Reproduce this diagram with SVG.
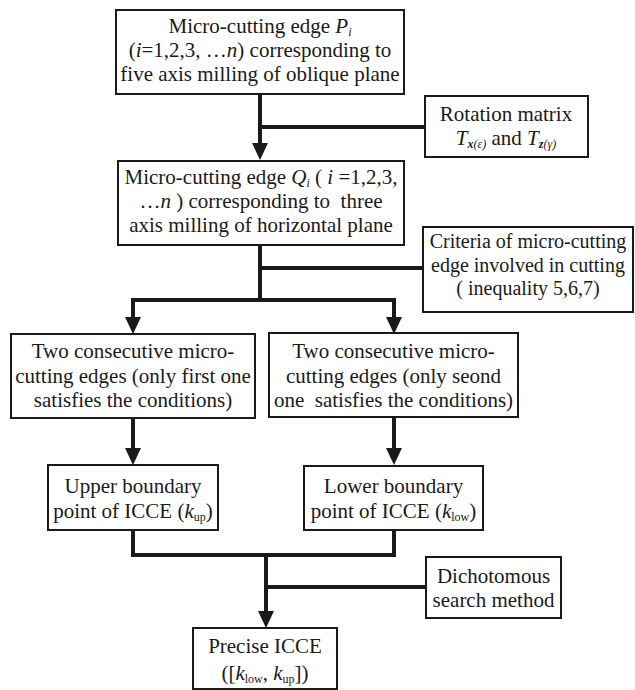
<svg xmlns="http://www.w3.org/2000/svg" width="635" height="690" viewBox="0 0 635 690">
<defs>
<style>
.box{fill:#fff;stroke:#1a1a1a;stroke-width:2}
.t{font-family:"Liberation Serif","Times New Roman",serif;font-size:21px;fill:#1a1a1a;text-anchor:middle}
.t2{font-size:20px}
.i{font-style:italic}
.s{font-size:12px}
.c{fill:none;stroke:#1a1a1a;stroke-width:4}
.ah{fill:#1a1a1a}
</style>
</defs>
<rect width="635" height="690" fill="#fff"/>
<g id="connectors">
<path class="c" d="M260 94V145M260 127H425"/>
<polygon class="ah" points="252,143 268,143 260,160"/>
<path class="c" d="M260 245V300H133V318M260 300H394V318M260 268H423"/>
<polygon class="ah" points="125,317 141,317 133,334"/>
<polygon class="ah" points="386,317 402,317 394,334"/>
<path class="c" d="M133 418V449M394 417V449"/>
<polygon class="ah" points="125,448 141,448 133,465"/>
<polygon class="ah" points="386,448 402,448 394,465"/>
<path class="c" d="M133 530V555H394V530M266 555V612M266 587H426"/>
<polygon class="ah" points="258,611 274,611 266,628"/>
</g>
<g id="n1">
<rect class="box" x="116" y="10" width="288" height="84"/>
<text class="t" x="260" y="33">Micro-cutting edge <tspan class="i">P</tspan><tspan class="i s" baseline-shift="-3">i</tspan></text>
<text class="t" x="260" y="57">(<tspan class="i">i</tspan>=1,2,3, …<tspan class="i">n</tspan>) corresponding to</text>
<text class="t" x="260" y="81">five axis milling of oblique plane</text>
</g>
<g id="n2">
<rect class="box" x="425" y="96" width="163" height="61"/>
<text class="t" x="506" y="121">Rotation matrix</text>
<text class="t" x="506" y="145"><tspan class="i">T</tspan><tspan class="i s" baseline-shift="-3"><tspan font-weight="bold">x</tspan>(ε)</tspan> and <tspan class="i">T</tspan><tspan class="i s" baseline-shift="-3"><tspan font-weight="bold">z</tspan>(γ)</tspan></text>
</g>
<g id="n3">
<rect class="box" x="118" y="161" width="286" height="84"/>
<text class="t" x="261" y="184">Micro-cutting edge <tspan class="i">Q</tspan><tspan class="i s" baseline-shift="-3">i</tspan> ( <tspan class="i">i</tspan> =1,2,3,</text>
<text class="t" x="261" y="208">…<tspan class="i">n</tspan> ) corresponding to&#160; three</text>
<text class="t" x="261" y="232">axis milling of horizontal plane</text>
</g>
<g id="n4">
<rect class="box" x="423" y="227" width="210" height="85"/>
<text class="t t2" x="528" y="248">Criteria of micro-cutting</text>
<text class="t t2" x="528" y="272">edge involved in cutting</text>
<text class="t t2" x="528" y="295">( inequality 5,6,7)</text>
</g>
<g id="n5">
<rect class="box" x="11" y="334" width="244" height="84"/>
<text class="t" x="133" y="358">Two consecutive micro-</text>
<text class="t" x="133" y="383">cutting edges (only first one</text>
<text class="t" x="133" y="407">satisfies the conditions)</text>
</g>
<g id="n6">
<rect class="box" x="269" y="333" width="249" height="84"/>
<text class="t" x="393.5" y="358">Two consecutive micro-</text>
<text class="t" x="393.5" y="383">cutting edges (only seond</text>
<text class="t" x="393.5" y="407">one&#160; satisfies the conditions)</text>
</g>
<g id="n7">
<rect class="box" x="48" y="465" width="170" height="65"/>
<text class="t" x="133" y="493">Upper boundary</text>
<text class="t" x="133" y="518">point of ICCE (<tspan class="i">k</tspan><tspan class="s" baseline-shift="-3">up</tspan>)</text>
</g>
<g id="n8">
<rect class="box" x="304" y="466" width="179" height="64"/>
<text class="t" x="393.5" y="493">Lower boundary</text>
<text class="t" x="393.5" y="518">point of ICCE (<tspan class="i">k</tspan><tspan class="s" baseline-shift="-3">low</tspan>)</text>
</g>
<g id="n9">
<rect class="box" x="426" y="557" width="135" height="61"/>
<text class="t" x="493.5" y="583">Dichotomous</text>
<text class="t" x="493.5" y="607">search method</text>
</g>
<g id="n10">
<rect class="box" x="193" y="628" width="144" height="61"/>
<text class="t" x="265" y="653">Precise ICCE</text>
<text class="t" x="265" y="680">([<tspan class="i">k</tspan><tspan class="s" baseline-shift="-3">low</tspan>, <tspan class="i">k</tspan><tspan class="s" baseline-shift="-3">up</tspan>])</text>
</g>
</svg>
